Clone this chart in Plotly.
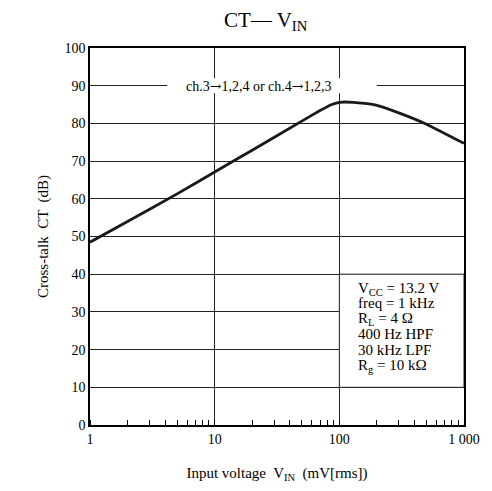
import plotly.graph_objects as go

vin = [1, 2, 5, 10, 20, 50, 70, 85, 100, 130, 160, 200, 300, 500, 1000]
ct = [48.5, 54.0, 61.3, 67.1, 72.9, 80.6, 83.4, 84.9, 85.6, 85.6, 85.3, 84.8, 82.8, 79.8, 74.7]

x_tickvals = [1, 10, 100, 1000]
x_ticktext = ["1", "10", "100", "1 000"]
y_tickvals = list(range(0, 101, 10))

cond_lines = ["V<sub>CC</sub> = 13.2 V", "freq = 1 kHz", "R<sub>L</sub> = 4 Ω",
              "400 Hz HPF", "30 kHz LPF", "R<sub>g</sub> = 10 kΩ"]
ARROW = '<span style="font-family:DejaVu Serif">→</span>'
label_text = f"ch.3{ARROW}1,2,4 or ch.4{ARROW}1,2,3"

FONT = "Liberation Serif, Times New Roman, serif"

fig = go.Figure()
fig.add_trace(go.Scatter(x=vin, y=ct, mode="lines",
                         line=dict(color="#1a1a1a", width=2.8, shape="spline", smoothing=0.3),
                         showlegend=False, hoverinfo="skip"))

fig.update_layout(
    width=492, height=491,
    margin=dict(l=90, r=24, t=48, b=66),
    paper_bgcolor="white", plot_bgcolor="white",
    font=dict(family=FONT, color="black", size=14),
    title=dict(text="CT— V<sub>IN</sub>", x=0.54, xanchor="center", y=0.975, yanchor="top",
               font=dict(family=FONT, size=21, color="black")),
)

fig.update_xaxes(
    type="log", range=[0, 3],
    tickvals=x_tickvals, ticktext=x_ticktext,
    ticks="", showgrid=True, gridcolor="#222", gridwidth=1,
    showline=True, linecolor="black", linewidth=1.5, mirror=True,
    tickfont=dict(size=14), zeroline=False,
    minor=dict(ticks="inside", ticklen=5, tickcolor="black", tickwidth=1, dtick="D1", showgrid=False),
    title=dict(text="Input voltage  V<sub>IN</sub>  (mV[rms])", font=dict(size=15), standoff=22),
)
fig.update_yaxes(
    range=[0, 100], tickvals=y_tickvals,
    ticks="", showgrid=True, gridcolor="#222", gridwidth=1,
    showline=True, linecolor="black", linewidth=1.5, mirror=True,
    tickfont=dict(size=14), zeroline=False,
    title=dict(text="Cross-talk  CT  (dB)", font=dict(size=15), standoff=12),
)

# white box for conditions text
fig.add_shape(type="rect", xref="x", yref="y", x0=100, x1=1000, y0=10, y1=40,
              fillcolor="white", line=dict(color="#222", width=1), layer="between")
# white background behind curve label
fig.add_shape(type="rect", xref="x", yref="y", x0=4.16, x1=200, y0=88, y1=92,
              fillcolor="white", line=dict(width=0), layer="between")

fig.add_annotation(x=1.357, y=90, xref="x", yref="y", text=label_text, showarrow=False,
                   font=dict(family=FONT, size=14, color="black"), xanchor="center", yanchor="middle")

cond_y = [36.2, 32.3, 28.0, 24.1, 19.8, 15.6]
for txt, yv in zip(cond_lines, cond_y):
    fig.add_annotation(x=2.13, y=yv, xref="x", yref="y", text=txt, showarrow=False,
                       align="left", xanchor="left", yanchor="middle",
                       font=dict(family=FONT, size=15, color="black"))

fig.write_html("out.html")
